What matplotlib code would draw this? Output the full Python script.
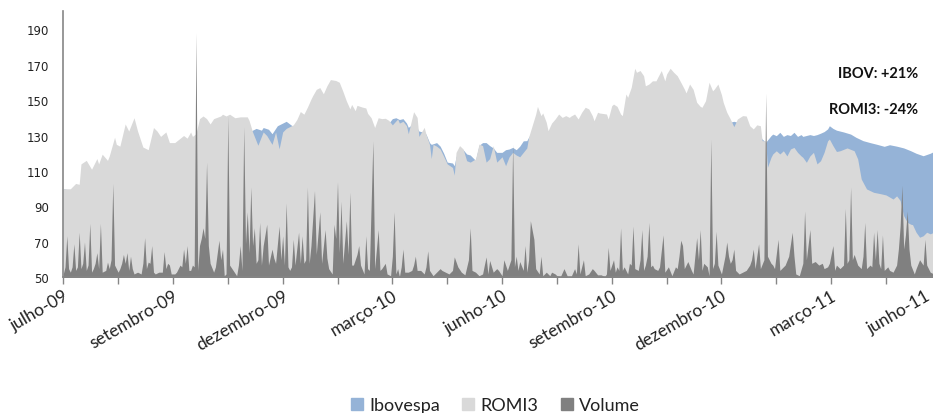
import numpy as np
import matplotlib
matplotlib.use('Agg')
import matplotlib.pyplot as plt
import matplotlib.transforms as mtransforms
from matplotlib.patches import Patch

# trading-day index (0 = 1 Jul 2009) and value, base 100
romi3 = [(0,100),(4,100),(7,103),(9,102.5),(10,114),(13,116),(16,111),(19,117),(20,114),(22,119.5),(25,116),(26,118.5),
         (29,129),(30,125),(32,124),(35,136.5),(37,132.5),(40,140),(42,132.5),(45,123.5),(48,122),(51,134.5),(53,132.5),
         (55,129.5),(58,132),(60,126),(63,126),(68,130),(70,128.5),(72,132),(73,129.5),(75,131),(77,139.5),(79,141),
         (81,139.5),(83,136.5),(85,139.5),(89,141),(90,142),(92,141),(94,142),(97,140),(100,140.5),(104,140.5),(105,138.5),
         (107,132),(110,124.5),(113,132),(115,130),(118,125),(120,132),(122,122.5),(124,132),(126,134),(130,136),(132,139),
         (134,143.5),(136,142),(138,146),(140,150.5),(141,152.5),(143,156),(145,157),(147,153.5),(149,158),(151,161.5),
         (154,161),(156,160),(158,155),(160,149.5),(162,145),(163,147.5),(165,144),(166,147),(169,146),(171,145.5),
         (172,142.5),(174,140),(176,134.5),(178,140),(180,139.5),(182,139.7),(184,138.5),(186,136),(189,139.3),(190,137),
         (192,138),(194,135.5),(195,131),(197,139.3),(198,143.4),(200,140.2),(201,129.5),(204,134.6),(205,130.8),(207,125),
         (208,117),(209,125),(211,124),(213,122.4),(215,118.3),(217,114),(220,112),(221,107.7),(222,120.5),(224,124.3),
         (226,122.4),(228,115.8),(230,115),(233,116.8),(235,125.2),(237,124.3),(239,115),(241,117),(243,124.3),(245,115),
         (248,118),(250,113),(252,118),(254,120.5),(256,119),(258,118),(260,120.5),(262,123),(263,129),(265,135.5),
         (267,142),(268,146.4),(270,141.2),(271,142.7),(273,137.4),(274,132.7),(276,137),(278,139.3),(280,142.1),
         (282,140.2),(284,141.2),(286,140.2),(287,141),(289,142.1),(291,139.3),(293,143.1),(295,145.9),(297,145),
         (299,141.2),(300,138.3),(302,143.1),(303,142.7),(307,142.1),(308,139.3),(310,146.8),(311,147.7),(313,146.4),
         (315,142.1),(316,141.2),(318,153.4),(319,151.5),(321,157.1),(323,167.9),(324,165.6),(326,166.6),(328,163.7),
         (329,158),(331,159),(333,160.8),(335,160.8),(336,162.8),(338,166.6),(340,160.8),(341,164.6),(343,167.9),
         (345,165.6),(347,163.7),(349,160),(351,156.2),(352,154),(354,159),(356,156),(358,148.7),(360,146.4),(361,145.9),
         (363,149.6),(365,160),(367,155.2),(368,156.2),(370,159),(372,153),(373,148.7),(375,143.1),(377,139.3),(379,135),
         (381,139.3),(384,141.2),(386,141),(388,135.5),(390,133.7),(392,136),(394,135.5),(395,127.1),(397,127),(398,112.1),
         (400,117.7),(401,119.6),(403,121.4),(405,119.6),(407,121.4),(409,118.5),(411,122.4),(413,123.3),(415,120.5),
         (417,118.5),(418,117.7),(420,114.9),(422,118.5),(424,120.5),(426,114),(428,115.8),(430,120.5),(432,127),(433,128),
         (435,124.3),(437,121),(439,121.4),(443,123),(447,121.4),(449,116.8),(451,105.5),(454,99.9),(458,98),(462,97.2),
         (465,96.5),(469,94.2),(471,96),(473,93.4),(475,84.8),(477,81.1),(479,80),(480,79.8),(482,75.5),(484,72.7),
         (486,73.5),(488,75.5),(490,74.6),(492,75.5)]

ibovespa = [(0,100),(5,99),(10,103),(15,104),(20,106),(25,108),(30,107),(35,110),(40,112),(45,109),(50,113),(55,116),
            (60,119),(63,120),(67,120),(72,125),(76,128),(80,126),(84,122),(88,119),(92,124),(96,128),(100,130),(104,131),
            (106,132.5),(109,134),(112,133),(113,134.5),(116,133.5),(118,131),(121,135.5),(124,137),(126,138),(128,136.5),
            (130,135),(134,132),(138,128),(142,126),(146,124),(150,127),(155,125),(160,129),(165,132),(170,134),(175,133),
            (180,135),(184,137),(186,139.5),(188,140),(190,139),(192,139.5),(194,137),(195,134.6),(197,136),(199,136),
            (201,132.5),(203,132),(205,130.8),(207,126),(208,125),(211,126),(213,124),(215,120),(217,115),(220,114.5),
            (221,113),(222,118),(224,122),(226,122),(228,119.6),(230,119),(233,116),(235,124.5),(237,126),(239,126),
            (241,124.3),(243,123),(245,120.5),(248,120.5),(250,122),(252,122.4),(254,123.3),(256,122),(258,124),(260,127),
            (262,127.1),(263,129),(265,132),(270,133),(275,130),(280,134),(285,133),(290,135),(295,134),(300,135),
            (305,135),(310,136),(315,137),(320,138),(325,138),(330,140),(335,139),(340,141),(345,140),(350,137),(355,138),
            (360,136),(365,135),(370,134),(375,137),(379,138),(383,137),(388,134),(392,132.5),(395,128),(397,126.2),
            (400,129.9),(401,130.8),(403,129.9),(405,131.8),(407,129.5),(409,130.5),(411,130),(413,131.8),(415,129.5),
            (417,130.5),(418,129.5),(420,130),(422,130.5),(424,130),(426,130.5),(428,131.3),(430,132.2),(432,133.7),
            (433,135.5),(435,134),(437,133),(441,132),(445,130.8),(448,129),(452,127.1),(456,126),(460,125),(464,123.9),
            (467,124.8),(471,124),(475,123),(479,121.4),(482,120),(486,118.6),(490,120),(492,121)]

volume = [(0,52),(1,56),(2,73.5),(3,55),(4,53),(5,56),(6,69),(7,54),(8,56),(9,75.5),(10,55),(11,58),(12,70),(13,54),
          (14,57),(15,80.5),(16,53),(17,55),(18,58),(19,64),(20,55),(21,80.5),(22,53),(24,54),(25,58.7),(26,55),(27,60),
          (28,103),(29,57),(30,55),(31,53),(32,55),(33,58),(34,63),(35,58),(36,64),(37,54),(38,62),(39,55),(40,52),(42,53),
          (44,52),(45,58),(46,72.5),(47,55),(48,58.7),(49,58),(50,68),(51,53),(52,52),(54,53),(56,53),(57,64.6),(58,55),
          (59,58),(60,57),(61,52),(62,52),(63,52),(64,53),(66,57),(67,56),(68,66),(69,58),(70,68),(71,54),(72,54),(73,57),
          (74,56),(75,188),(76,54),(77,68),(78,72),(79,78),(80,72),(81,115),(82,68),(83,58),(85,53),(86,56),(88,71),(89,60),
          (90,66),(91,51),(92,52),(93,141),(94,57),(96,54),(98,51),(99,57),(100,68),(101,54),(102,135),(103,69),(104,87),
          (105,64),(106,101),(107,68),(108,78),(109,58),(110,60),(111,81),(112,57),(113,68),(115,80),(116,57),(118,66),
          (119,61),(120,58),(122,79),(123,60),(124,73.5),(125,57),(126,92),(127,56),(128,54),(129,56),(130,71.5),(131,57),
          (133,75.5),(134,58),(135,73.5),(136,58),(137,60),(138,101),(139,58),(140,68),(142,99),(143,63),(145,87),(146,58),
          (148,77),(149,61),(150,55),(152,52),(153,80),(154,72),(155,104),(156,64),(157,93),(158,58),(160,82),(161,63),
          (162,98),(163,57),(164,57),(166,63),(167,68),(168,57),(170,52),(171,73.5),(172,55),(173,54),(175,127),(176,55),
          (178,77),(179,54),(180,55),(182,58),(183,52),(185,51),(186,62),(187,87),(188,52),(189,55),(190,50.5),(191,56),
          (192,66),(193,53),(195,53),(197,54),(198,57),(199,62),(200,54),(202,54),(204,52),(205,56),(206,65),(207,54),
          (209,51),(211,53),(213,55),(214,54),(216,53),(218,52),(220,54),(221,61.6),(223,56),(225,53),(227,51.5),(229,60),
          (230,78),(231,54),(233,53),(235,51),(237,52),(238,57),(239,61.6),(240,52),(241,59.6),(243,53),(245,55),(246,54),
          (248,51),(249,60),(251,54),(252,57),(253,60),(254,125),(255,56),(256,62),(257,54),(258,59),(260,54),(261,68),
          (262,53),(263,60),(264,82),(266,71.5),(267,55),(269,52),(270,62),(271,51),(273,53),(275,51),(276,53),(278,52),
          (279,51),(281,50.5),(283,55),(285,50.5),(287,50.5),(289,55),(290,52),(291,69),(292,52),(294,60),(295,51),
          (297,52),(299,55),(300,54),(302,51.5),(304,51.5),(306,50.5),(307,52),(308,67),(309,54),(311,60),(312,53),(313,56),
          (314,54),(315,78),(316,54),(317,56),(319,52),(320,58),(321,57),(322,79),(323,55),(325,54),(326,60),(327,77),
          (328,54),(329,57),(330,62),(331,81),(332,56),(333,57),(334,55),(336,54),(337,56),(339,74),(340,53),(342,56),
          (344,51),(346,56),(347,55),(348,62),(349,71),(350,68),(351,55),(353,59),(355,54),(356,52),(358,72.5),(359,60),
          (360,77),(361,54),(362,58),(364,56),(365,51),(366,128),(367,55),(368,58),(369,76),(370,57),(372,52),(374,62),
          (375,70),(376,62),(377,58),(378,60),(379,66),(380,54),(382,52),(384,53),(386,54),(388,57),(389,60),(390,66),
          (391,55),(393,69),(394,55),(396,60),(397,154),(398,62),(400,58),(401,57),(402,55),(404,71.5),(405,54),(407,56),
          (408,57),(410,62),(412,75.5),(413,62),(414,52),(416,51),(418,58),(419,87.5),(420,60),(422,77),(423,58),(425,59),
          (427,57),(429,58),(430,55),(432,56),(433,58),(435,68),(436,54),(437,57),(439,55),(441,57),(442,89),(443,58),
          (444,60),(445,101),(446,60),(447,63),(449,57),(451,55),(452,62),(453,81),(454,55),(456,57),(457,56),(458,75.5),
          (459,60),(460,77),(461,58),(462,55),(463,74),(464,54),(466,56),(467,54),(469,53),(471,57),(472,66),(473,79),
          (474,102),(475,66),(476,74),(477,87.5),(478,66),(479,57),(481,52),(482,55),(484,60),(486,57),(487,71.5),(488,57),
          (490,53),(492,52)]

month_labels = ['julho-09', 'setembro-09', 'dezembro-09', 'março-10', 'junho-10',
                'setembro-10', 'dezembro-10', 'março-11', 'junho-11']
label_step = 62   # trading days between labels
yticks = [50, 70, 90, 110, 130, 150, 170, 190]

c_ibov = '#95B3D7'
c_romi = '#D9D9D9'
c_vol = '#808080'
c_axis = '#868686'

ib_x, ib_y = np.array(ibovespa).T
ro_x, ro_y = np.array(romi3).T
vo_x, vo_y = np.array(volume).T

fig = plt.figure(figsize=(9.33, 4.14), dpi=100)
ax = fig.add_axes([0.0678, 0.3273, 0.9406, 0.6431])

ax.fill_between(ib_x, 0, ib_y, color=c_ibov, lw=0, zorder=1)
ax.fill_between(ro_x, 0, ro_y, color=c_romi, lw=0, zorder=2)
ax.fill_between(vo_x, 0, vo_y, color=c_vol, lw=0, zorder=3)

ax.set_ylim(50, 200)
ax.set_xlim(0, label_step * (len(month_labels) - 1))
ax.set_yticks(yticks)
ax.tick_params(axis='y', length=0, pad=10, labelsize=8.5, labelcolor='#222222')

major = np.arange(len(month_labels)) * label_step
ax.set_xticks(major)
ax.set_xticks(major[:-1] + label_step // 2, minor=True)
ax.set_xticklabels(month_labels, fontsize=12.5, family='Lato', color='#222222')
ax.tick_params(axis='x', which='both', length=5, width=1, color=c_axis, pad=2)
plt.setp(ax.get_xticklabels(), rotation=30, ha='right', rotation_mode='anchor')

# last label sits past the figure edge: nudge it left so it stays readable
last = ax.get_xticklabels()[-1]
last.set_transform(last.get_transform() + mtransforms.ScaledTranslation(-11 / 72, 0, fig.dpi_scale_trans))

for s in ['top', 'right']:
    ax.spines[s].set_visible(False)
for s in ['left', 'bottom']:
    ax.spines[s].set_color(c_axis)
    ax.spines[s].set_linewidth(1.2)
    ax.spines[s].set_zorder(5)

ax.text(460.5, 165.2, 'IBOV: +21%', ha='center', va='center', fontsize=10.5,
        fontweight='bold', family='Lato', color='#111111', zorder=6)
ax.text(458, 145, 'ROMI3: -24%', ha='center', va='center', fontsize=10.5,
        fontweight='bold', family='Lato', color='#111111', zorder=6)

handles = [Patch(color=c_ibov, label='Ibovespa'),
           Patch(color=c_romi, label='ROMI3'),
           Patch(color=c_vol, label='Volume')]
fig.legend(handles=handles, loc='lower center', bbox_to_anchor=(0.531, -0.04), ncol=3,
           frameon=False, prop={'family': 'Lato', 'size': 13}, handlelength=0.65,
           handleheight=0.65, handletextpad=0.35, columnspacing=1.25, labelcolor='#222222')

fig.savefig('out.png', dpi=100)
